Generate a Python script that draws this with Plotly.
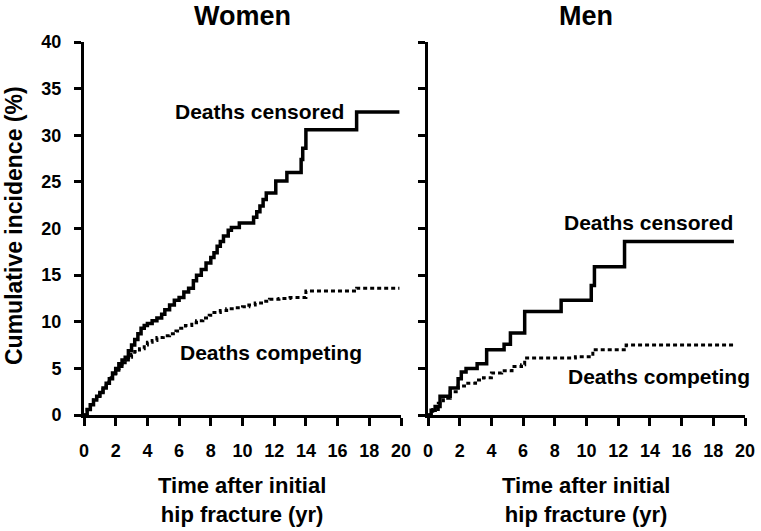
import plotly.graph_objects as go

# ---- data ----
women_cens_t = [0.0, 0.2, 0.4, 0.6, 0.8, 1.0, 1.2, 1.4, 1.6, 1.8, 2.0, 2.2, 2.4, 2.6, 2.8, 3.0,
                3.2, 3.4, 3.6, 3.8, 4.0, 4.3, 4.6, 4.9, 5.1, 5.4, 5.7, 6.0, 6.3, 6.6, 6.9, 7.1,
                7.4, 7.7, 8.0, 8.2, 8.4, 8.6, 8.8, 9.1, 9.3, 9.8, 10.7, 10.9, 11.1, 11.3, 11.5,
                12.1, 12.8, 13.7, 13.8, 14.0, 17.2, 19.9]
women_cens_v = [0.0, 0.6, 1.1, 1.6, 2.0, 2.4, 2.9, 3.4, 3.9, 4.5, 5.0, 5.5, 5.9, 6.2, 6.9, 7.5,
                8.1, 8.7, 9.3, 9.6, 9.8, 10.1, 10.4, 10.8, 11.3, 11.8, 12.3, 12.6, 13.2, 13.6, 14.4, 15.0,
                15.6, 16.3, 16.9, 17.4, 18.1, 18.6, 19.2, 19.8, 20.1, 20.6, 21.2, 21.8, 22.4, 23.1, 23.8,
                25.1, 26.0, 27.4, 28.6, 30.6, 32.5, 32.5]

women_comp_t = [0.0, 0.2, 0.4, 0.6, 0.8, 1.0, 1.2, 1.4, 1.6, 1.8, 2.0, 2.2, 2.4, 2.6, 2.8, 3.0,
                3.2, 3.5, 3.8, 4.0, 4.3, 4.6, 5.0, 5.4, 5.8, 6.1, 6.4, 6.8, 7.1, 7.5, 7.9, 8.2,
                8.6, 9.0, 9.5, 10.0, 10.4, 10.8, 11.2, 11.7, 12.3, 13.0, 14.0, 17.2, 19.9]
women_comp_v = [0.0, 0.6, 1.1, 1.6, 2.1, 2.5, 3.0, 3.5, 4.0, 4.4, 4.8, 5.2, 5.6, 5.9, 6.2, 6.5,
                6.8, 7.1, 7.5, 7.8, 8.0, 8.3, 8.5, 8.7, 9.0, 9.3, 9.6, 9.9, 10.1, 10.4, 10.7, 11.0,
                11.2, 11.4, 11.5, 11.6, 11.8, 12.0, 12.2, 12.4, 12.5, 12.6, 13.3, 13.6, 13.6]

men_cens_t = [0.0, 0.2, 0.45, 0.76, 1.4, 1.9, 2.1, 2.4, 3.1, 3.7, 4.8, 5.2, 6.1, 8.4, 10.3, 10.5, 12.4, 19.3]
men_cens_v = [0.0, 0.5, 0.9, 2.0, 2.9, 3.9, 4.6, 5.0, 5.5, 7.0, 7.6, 8.8, 11.1, 12.3, 13.9, 15.9, 18.6, 18.6]

men_comp_t = [0.0, 0.3, 0.65, 0.97, 1.4, 1.9, 2.3, 3.0, 3.5, 4.0, 4.65, 5.3, 5.9, 6.1, 9.3, 10.4, 12.5, 19.3]
men_comp_v = [0.0, 0.6, 1.25, 1.8, 2.5, 3.1, 3.4, 3.75, 4.0, 4.5, 4.75, 5.2, 5.4, 6.1, 6.25, 7.0, 7.5, 7.5]

x_ticks = [0, 2, 4, 6, 8, 10, 12, 14, 16, 18, 20]
y_ticks = [0, 5, 10, 15, 20, 25, 30, 35, 40]
panel_titles = ["Women", "Men"]
label_censored = "Deaths censored"
label_competing = "Deaths competing"
x_title = "Time after initial<br>hip fracture (yr)"
y_title = "Cumulative incidence (%)"

FONT = "Liberation Sans, Arial, sans-serif"
W, H = 761, 531

fig = go.Figure()

solid = dict(color="black", width=3.5, shape="hv")
dotted = dict(color="black", width=3, shape="hv", dash="4px,3px")

fig.add_trace(go.Scatter(x=women_comp_t, y=women_comp_v, mode="lines", line=dotted, xaxis="x", yaxis="y"))
fig.add_trace(go.Scatter(x=women_cens_t, y=women_cens_v, mode="lines", line=solid, xaxis="x", yaxis="y"))
fig.add_trace(go.Scatter(x=men_comp_t, y=men_comp_v, mode="lines", line=dotted, xaxis="x2", yaxis="y2"))
fig.add_trace(go.Scatter(x=men_cens_t, y=men_cens_v, mode="lines", line=solid, xaxis="x2", yaxis="y2"))

def px_x(p):
    return p / W

def px_y(p):
    return 1 - p / H

ydom = [px_y(415), px_y(42)]
tickfont = dict(family=FONT, size=18, color="black", weight="bold")

common_x = dict(range=[0, 20], tickvals=x_ticks, ticks="outside", ticklen=8, tickwidth=3,
                tickcolor="black", showline=True, linewidth=3, linecolor="black",
                showgrid=False, zeroline=False, tickfont=tickfont, ticklabelstandoff=9,
                fixedrange=True, automargin=False)
common_y = dict(range=[0, 40], tickvals=y_ticks, ticks="outside", ticklen=7, tickwidth=3,
                tickcolor="black", showline=True, linewidth=3, linecolor="black",
                showgrid=False, zeroline=False, tickfont=tickfont, ticklabelstandoff=9,
                fixedrange=True, domain=ydom, automargin=False)

fig.update_layout(
    width=W, height=H,
    margin=dict(l=0, r=0, t=0, b=0, autoexpand=False),
    paper_bgcolor="white", plot_bgcolor="white",
    showlegend=False,
    font=dict(family=FONT, color="black"),
    xaxis=dict(common_x, domain=[px_x(84), px_x(401)], anchor="y"),
    yaxis=dict(common_y, anchor="x"),
    xaxis2=dict(common_x, domain=[px_x(428), px_x(745)], anchor="y2"),
    yaxis2=dict(common_y, anchor="x2", showticklabels=False),
    hovermode=False,
)

ann_font = dict(family=FONT, size=21, color="black", weight="bold")
annotations = [
    dict(text=label_censored, x=11.1, y=32.6, xref="x", yref="y"),
    dict(text=label_competing, x=11.8, y=6.65, xref="x", yref="y"),
    dict(text=label_censored, x=13.9, y=20.6, xref="x2", yref="y2"),
    dict(text=label_competing, x=14.6, y=4.1, xref="x2", yref="y2"),
]
for a in annotations:
    a.update(showarrow=False, xanchor="center", yanchor="middle", font=ann_font)

title_font = dict(family=FONT, size=27, color="black", weight="bold")
annotations += [
    dict(text=panel_titles[0], x=px_x(242), y=1, xref="paper", yref="paper", borderpad=0,
         showarrow=False, xanchor="center", yanchor="top", font=title_font),
    dict(text=panel_titles[1], x=px_x(586), y=1, xref="paper", yref="paper", borderpad=0,
         showarrow=False, xanchor="center", yanchor="top", font=title_font),
]
xt_font = dict(family=FONT, size=22, color="black", weight="bold")
annotations += [
    dict(text=x_title, x=px_x(242), y=px_y(500), xref="paper", yref="paper",
         showarrow=False, xanchor="center", yanchor="middle", font=xt_font),
    dict(text=x_title, x=px_x(586), y=px_y(500), xref="paper", yref="paper",
         showarrow=False, xanchor="center", yanchor="middle", font=xt_font),
    dict(text=y_title, x=0, y=px_y(226), xref="paper", yref="paper", textangle=-90,
         showarrow=False, xanchor="left", yanchor="middle", borderpad=0,
         font=dict(family=FONT, size=23, color="black", weight="bold")),
]
fig.update_layout(annotations=annotations)

fig.write_html("out.html", config={"displayModeBar": False},
               post_script="document.body.style.margin='0';document.body.style.overflow='hidden';")
